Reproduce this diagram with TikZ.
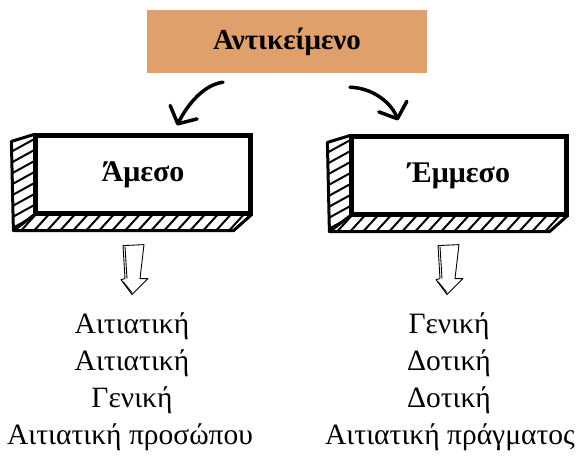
\documentclass[tikz,border=0pt]{standalone}
\usepackage{fontspec}
\setmainfont{Liberation Serif}
\usetikzlibrary{calc,arrows.meta}
\definecolor{titleorange}{HTML}{E0A06C}
\tikzset{
 titlebox/.style={fill=titleorange, minimum width=280pt, minimum height=63pt, inner sep=0pt, font=\fontsize{29}{34}\selectfont\bfseries},
 frontbox/.style={draw, line width=3.2pt, fill=white, minimum width=214pt, minimum height=77pt, inner sep=0pt, font=\fontsize{30}{36}\selectfont\bfseries},
 faceline/.style={line width=3pt, line join=round, line cap=round},
 hatchline/.style={line width=2pt},
 curvearrow/.style={line width=3.5pt, line cap=round, -{Straight Barb[length=13pt,width=30pt,round]}},
 hollowarrow/.style={line width=0.9pt, line join=round},
 item/.style={anchor=base, font=\fontsize{29.5}{34}\selectfont, inner sep=0pt},
}
\begin{document}
\begin{tikzpicture}[x=1pt,y=-1pt]
\useasboundingbox (0,0) rectangle (578,463);
\node[titlebox] (title) at (287,41.5) {Αντικείμενο};
\node[frontbox] (amesso) at (143,174.5) {Άμεσο};
\node[frontbox] (emmeso) at (459,175.5) {Έμμεσο};
\foreach \b in {amesso,emmeso}{
  \coordinate (\b-lt) at ($(\b.north west)+(-23,7)$);
  \coordinate (\b-lb) at ($(\b.south west)+(-21,16)$);
  \coordinate (\b-rb) at ($(\b.south east)+(-18,16)$);
  \begin{scope}
    \clip (\b.north west) -- (\b-lt) -- (\b-lb) -- (\b.south west) -- cycle;
    \foreach \k in {0,...,10} \draw[hatchline] ($(\b-lt)+(-5,2+11*\k)$) -- ++(40,-22);
  \end{scope}
  \begin{scope}
    \clip (\b.south west) -- (\b.south east) -- (\b-rb) -- (\b-lb) -- cycle;
    \foreach \k in {0,...,19} \draw[hatchline] ($(\b-lb)+(-8+13*\k,3)$) -- ++(20,-22);
  \end{scope}
  \draw[faceline] (\b.north west) -- (\b-lt) -- (\b-lb) -- (\b-rb) -- (\b.south east);
  \draw[faceline] (\b-lb) -- (\b.south west);
  \draw[line width=3.2pt] (\b.north west) rectangle (\b.south east);
}
\coordinate (ls) at ($(title.south)+(-64,9)$);
\coordinate (le) at ($(amesso.north)+(34,-9)$);
\draw[curvearrow] (ls) .. controls +(-22,3) and +(8,-16) .. (le);
\coordinate (rs) at ($(title.south)+(63,14)$);
\coordinate (re) at ($(emmeso.north)+(-61,-15)$);
\draw[curvearrow] (rs) .. controls +(25,1) and +(-6,-16) .. (re);
\coordinate (ldown) at ($(amesso.south)+(-9,30)$);
\coordinate (rdown) at ($(emmeso.south)+(-10,29)$);
\foreach \c in {ldown,rdown}{
  \begin{scope}[shift={(\c)}]
    \draw[hollowarrow] (-11,1) -- (10,0) -- (6,34) -- (14,34) -- (-2,50) -- (-13,35) -- (-9,34) -- cycle;
    \draw[hollowarrow] (-9,2) -- (-7,34);
    \draw[hollowarrow] (-11,37) -- (-2,48);
  \end{scope}
}
\node[item] (a1) at (132,333) {Αιτιατική};
\node[item] (a2) at (132,370) {Αιτιατική};
\node[item] (a3) at (132,407) {Γενική};
\node[item] (a4) at (130,444) {Αιτιατική προσώπου};
\node[item] (e1) at (449,333) {Γενική};
\node[item] (e2) at (449,370) {Δοτική};
\node[item] (e3) at (449,407) {Δοτική};
\node[item] (e4) at (450,444) {Αιτιατική πράγματος};
\end{tikzpicture}
\end{document}
